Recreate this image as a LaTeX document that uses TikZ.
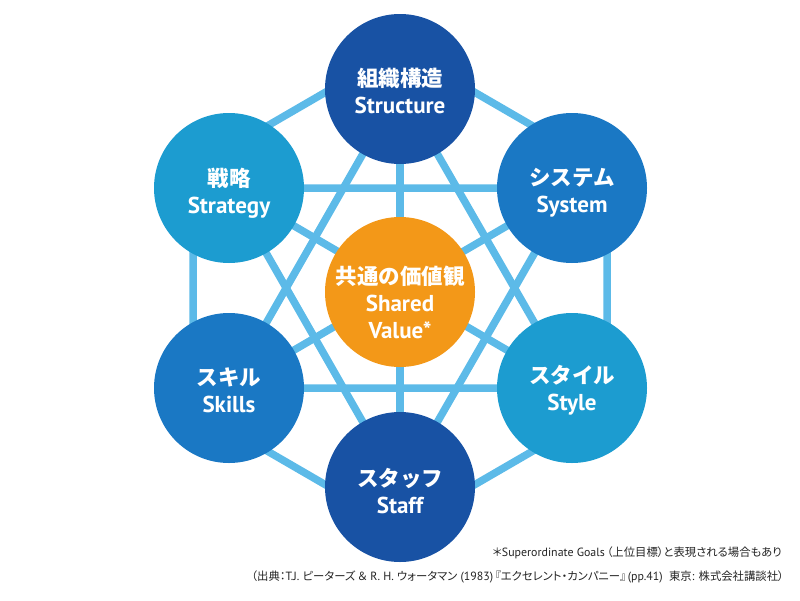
\documentclass[tikz,border=0pt]{standalone}
\usepackage{fontspec}
\setmainfont{PT Sans}
\newfontfamily\jp{Noto Sans CJK JP}
\newfontfamily\jpp{Noto Sans CJK JP}[RawFeature=+palt]
\usetikzlibrary{backgrounds}
\definecolor{linkc}{RGB}{92,186,232}
\definecolor{cdark}{RGB}{24,82,164}
\definecolor{cmid}{RGB}{26,120,196}
\definecolor{clight}{RGB}{28,156,208}
\definecolor{corange}{RGB}{243,152,24}
\definecolor{notec}{RGB}{35,35,35}
\tikzset{
  hub/.style={circle, minimum size=150pt, inner sep=0pt, draw=none},
  lbl/.style={text=white, align=center, font=\bfseries\fontsize{23}{27}\selectfont},
  link/.style={draw=linkc, line width=7.5pt},
  note/.style={text=notec, anchor=east, inner sep=0pt, font=\fontsize{11.9}{14}\selectfont}
}
\newcommand{\jpt}[1]{{\jp\bfseries\fontsize{21.5}{27}\selectfont #1}}
\newcommand{\jpn}[1]{{\jpp\fontsize{11.35}{14}\selectfont #1}}
\begin{document}
\begin{tikzpicture}[x=1pt, y=-1pt]
\useasboundingbox (0,0) rectangle (800,600);
% circles
\node[hub, fill=cdark]   (structure) at (400,89)  {};
\node[hub, fill=cmid]    (system)    at (572,188) {};
\node[hub, fill=clight]  (style)     at (572,388) {};
\node[hub, fill=cdark]   (staff)     at (400,487) {};
\node[hub, fill=cmid]    (skills)    at (229,388) {};
\node[hub, fill=clight]  (strategy)  at (229,188) {};
\node[hub, fill=corange] (shared)    at (400,292) {};
% outer frame corners
\coordinate (o1) at (400,49);
\coordinate (o2) at (607,169);
\coordinate (o3) at (607,408);
\coordinate (o4) at (400,528);
\coordinate (o5) at (193,408);
\coordinate (o6) at (193,169);
\begin{pgfonlayer}{background}
\draw[link] (o1) -- (o2) -- (o3) -- (o4) -- (o5) -- (o6) -- cycle;
\draw[link] (structure.center) -- (skills.center) -- (style.center) -- cycle;
\draw[link] (staff.center) -- (strategy.center) -- (system.center) -- cycle;
\draw[link] (structure.center) -- (staff.center);
\draw[link] (strategy.center) -- (style.center);
\draw[link] (system.center) -- (skills.center);
\end{pgfonlayer}
% labels
\node[lbl] (structure-l) at (400,91)  {\jpt{組織構造}\\Structure};
\node[lbl] (system-l)    at (572,193) {\jpt{システム}\\System};
\node[lbl] (style-l)     at (572,390) {\jpt{スタイル}\\Style};
\node[lbl] (staff-l)     at (400,491) {\jpt{スタッフ}\\Staff};
\node[lbl] (skills-l)    at (229,390) {\jpt{スキル}\\Skills};
\node[lbl] (strategy-l)  at (229,193) {\jpt{戦略}\\Strategy};
\node[lbl] (shared-l)    at (400,302) {\jpt{共通の価値観}\\Shared\\Value*};
% notes
\node[note] (note1) at (782,553) {\jpn{＊}Superordinate Goals\,\jpn{（上位目標）と表現される場合もあり}};
\node[note] (note2) at (784,577) {\jpn{（出典：}T.J. \jpn{ピーターズ ＆} R. H. \jpn{ウォータマン} (1983)\,\jpn{『エクセレント・カンパニー』}\,(pp.41)\ \ \jpn{東京}: \jpn{株式会社講談社）}};
\end{tikzpicture}
\end{document}
